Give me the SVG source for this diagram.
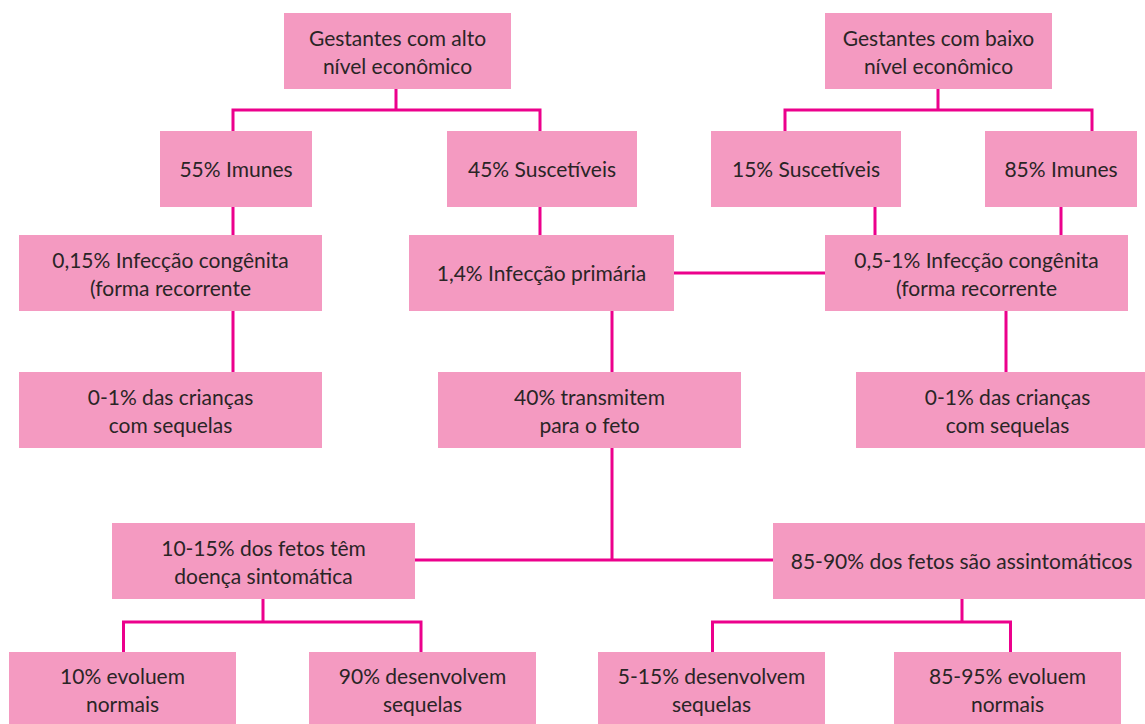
<svg xmlns="http://www.w3.org/2000/svg" width="1145" height="724" viewBox="0 0 1145 724">
<style>
.box{fill:#F49AC1;}
.t{font-family:"Lato","Liberation Sans",sans-serif;font-size:21px;fill:#2a2526;text-anchor:middle;}
.c{fill:none;stroke:#EC008C;stroke-width:3;}
</style>
<rect width="1145" height="724" fill="#ffffff"/>
<g id="connectors">
<path class="c" d="M233,131 V110 H540 V131 M396,89 V110"/>
<path class="c" d="M785,131 V110 H1092 V131 M938,89 V110"/>
<path class="c" d="M233,207 V235 M540,207 V235 M875,207 V235 M1061,207 V235"/>
<path class="c" d="M674,273 H825"/>
<path class="c" d="M233,311 V372 M612,311 V372 M1006,311 V372"/>
<path class="c" d="M612,448 V560 M415,560 H773"/>
<path class="c" d="M263,599 V622 M123.5,652 V622 H421 V652"/>
<path class="c" d="M962,599 V622 M712.5,652 V622 H1010.5 V652"/>
</g>
<g id="n1"><rect class="box" x="284" y="13" width="227" height="76"/><text class="t" x="397.5" y="46">Gestantes com alto<tspan x="397.5" y="74">nível econômico</tspan></text></g>
<g id="n2"><rect class="box" x="825" y="13" width="227" height="76"/><text class="t" x="938.5" y="46">Gestantes com baixo<tspan x="938.5" y="74">nível econômico</tspan></text></g>
<g id="n3"><rect class="box" x="160" y="131" width="152" height="76"/><text class="t" x="236" y="177">55% Imunes</text></g>
<g id="n4"><rect class="box" x="447" y="131" width="190" height="76"/><text class="t" x="542" y="177">45% Suscetíveis</text></g>
<g id="n5"><rect class="box" x="711" y="131" width="190" height="76"/><text class="t" x="806" y="177">15% Suscetíveis</text></g>
<g id="n6"><rect class="box" x="985" y="131" width="152" height="76"/><text class="t" x="1061" y="177">85% Imunes</text></g>
<g id="n7"><rect class="box" x="19" y="235" width="303" height="76"/><text class="t" x="170.5" y="268">0,15% Infecção congênita<tspan x="170.5" y="296">(forma recorrente</tspan></text></g>
<g id="n8"><rect class="box" x="409" y="235" width="265" height="76"/><text class="t" x="541.5" y="281">1,4% Infecção primária</text></g>
<g id="n9"><rect class="box" x="825" y="235" width="303" height="76"/><text class="t" x="976.5" y="268">0,5-1% Infecção congênita<tspan x="976.5" y="296">(forma recorrente</tspan></text></g>
<g id="n10"><rect class="box" x="19" y="372" width="303" height="76"/><text class="t" x="170.5" y="405">0-1% das crianças<tspan x="170.5" y="433">com sequelas</tspan></text></g>
<g id="n11"><rect class="box" x="438" y="372" width="303" height="76"/><text class="t" x="589.5" y="405">40% transmitem<tspan x="589.5" y="433">para o feto</tspan></text></g>
<g id="n12"><rect class="box" x="856" y="372" width="303" height="76"/><text class="t" x="1007.5" y="405">0-1% das crianças<tspan x="1007.5" y="433">com sequelas</tspan></text></g>
<g id="n13"><rect class="box" x="112" y="523" width="303" height="76"/><text class="t" x="263.5" y="556">10-15% dos fetos têm<tspan x="263.5" y="584">doença sintomática</tspan></text></g>
<g id="n14"><rect class="box" x="773" y="523" width="378" height="76"/><text class="t" x="961.5" y="569">85-90% dos fetos são assintomáticos</text></g>
<g id="n15"><rect class="box" x="9" y="652" width="227" height="76"/><text class="t" x="122.5" y="684">10% evoluem<tspan x="122.5" y="712">normais</tspan></text></g>
<g id="n16"><rect class="box" x="309" y="652" width="227" height="76"/><text class="t" x="422.5" y="684">90% desenvolvem<tspan x="422.5" y="712">sequelas</tspan></text></g>
<g id="n17"><rect class="box" x="598" y="652" width="227" height="76"/><text class="t" x="711.5" y="684">5-15% desenvolvem<tspan x="711.5" y="712">sequelas</tspan></text></g>
<g id="n18"><rect class="box" x="894" y="652" width="227" height="76"/><text class="t" x="1007.5" y="684">85-95% evoluem<tspan x="1007.5" y="712">normais</tspan></text></g>
</svg>
